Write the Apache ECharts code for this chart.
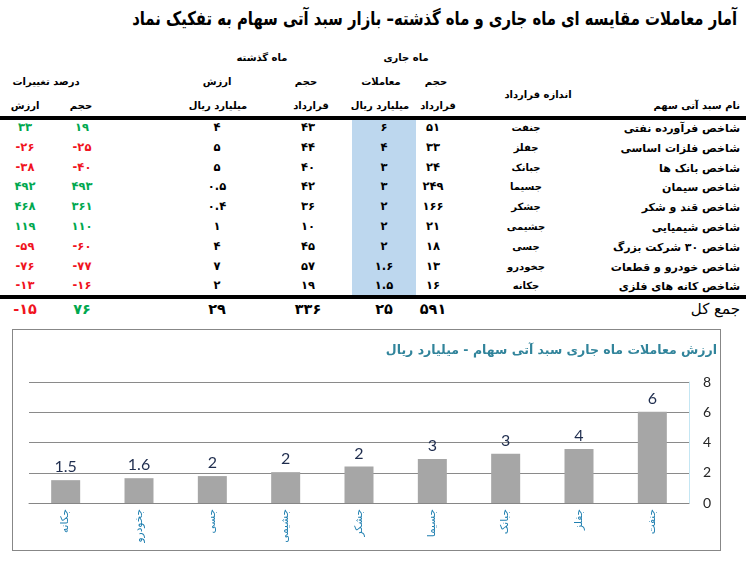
<!DOCTYPE html>
<html>
<head>
    <meta charset="utf-8">
    <title>آمار معاملات سبد آتی سهام</title>
    <script src="https://cdn.jsdelivr.net/npm/echarts@6/dist/echarts.min.js"></script>
    <style>
        body { margin: 0; background: #fff; }
        #page { position: relative; width: 746px; height: 564px; overflow: hidden; font-family: 'DejaVu Sans', sans-serif; font-weight: bold; }
        .t { position: absolute; white-space: nowrap; transform: translate(-50%, -50%); line-height: 1; }
        .r { position: absolute; white-space: nowrap; transform: translate(-100%, -50%); line-height: 1; direction: rtl; }
        .num { direction: ltr; }
        .bar { position: absolute; background: #000; }
        #chartBox { position: absolute; left: 12px; top: 329px; width: 709px; height: 222px; border: 1px solid #878787; box-sizing: border-box; }
        #main { width: 100%; height: 100%; }
    </style>
</head>
<body>
<div id="page">
    <div id="chartBox"><div id="main"></div></div>
</div>
<script type="text/javascript">

    const TITLE = 'آمار معاملات مقایسه ای ماه جاری و ماه گذشته– بازار سبد آتی سهام به تفکیک نماد';
    const CHART_TITLE = 'ارزش معاملات ماه جاری سبد آتی سهام - میلیارد ریال';

    // rows of the table, top to bottom
    const names = ['شاخص فرآورده نفتی', 'شاخص فلزات اساسی', 'شاخص بانک ها', 'شاخص سیمان', 'شاخص قند و شکر',
        'شاخص شیمیایی', 'شاخص ۳۰ شرکت بزرگ', 'شاخص خودرو و قطعات', 'شاخص کانه های فلزی'];
    const symbols = ['جنفت', 'جفلز', 'جبانک', 'جسیما', 'جشکر', 'جشیمی', 'جسی', 'جخودرو', 'جکانه'];
    const curVolume = [51, 33, 24, 249, 166, 21, 18, 13, 16];
    const curValue = [6, 4, 3, 3, 2, 2, 2, 1.6, 1.5];          // as printed
    const curValueExact = [6.03, 3.57, 3.26, 2.91, 2.41, 2.04, 1.78, 1.64, 1.51]; // bar heights
    const lastVolume = [43, 44, 40, 42, 36, 10, 45, 57, 19];
    const lastValue = [4, 5, 5, 0.5, 0.4, 1, 4, 7, 2];
    const chgVolume = [19, -25, -40, 493, 361, 110, -60, -77, -16];
    const chgValue = [33, -26, -38, 492, 468, 119, -59, -76, -13];

    const TOTAL_LABEL = 'جمع کل';
    const totals = { curVolume: 591, curValue: 25, lastVolume: 336, lastValue: 29, chgVolume: 76, chgValue: -15 };

    const yTicks = [0, 2, 4, 6, 8];

    function fa(n) {
        return String(n).replace(/[0-9]/g, d => '۰۱۲۳۴۵۶۷۸۹'[d]);
    }

    const page = document.getElementById('page');

    function put(cls, text, x, y, size, color, extra) {
        let el = document.createElement('div');
        el.className = cls;
        el.textContent = text;
        el.style.left = x + 'px';
        el.style.top = y + 'px';
        el.style.fontSize = size + 'px';
        if (color) el.style.color = color;
        if (extra) Object.assign(el.style, extra);
        page.appendChild(el);
        return el;
    }

    function rect(x, y, w, h, color) {
        let el = document.createElement('div');
        el.className = 'bar';
        Object.assign(el.style, { left: x + 'px', top: y + 'px', width: w + 'px', height: h + 'px', background: color });
        page.appendChild(el);
    }

    // title (DejaVu is wider than the original face, so squeeze it a bit)
    put('r', TITLE, 737, 18, 19, '#000', { transform: 'translate(-100%, -50%) scaleX(0.78)', transformOrigin: '100% 50%' });

    // headers
    const H = 10;
    put('t', 'ماه جاری', 406, 58, H);
    put('t', 'ماه گذشته', 262, 58, H);
    put('t', 'حجم', 436, 82, H);
    put('t', 'معاملات', 381, 82, H);
    put('t', 'حجم', 306, 82, H);
    put('t', 'ارزش', 217, 82, H);
    put('t', 'درصد تغییرات', 46, 82, H);
    put('t', 'اندازه قرارداد', 538, 95, H);
    put('r', 'نام سبد آتی سهم', 740, 106, H);
    put('t', 'قرارداد', 438, 106, H);
    put('t', 'میلیارد ریال', 380, 106, H);
    put('t', 'قرارداد', 311, 106, H);
    put('t', 'میلیارد ریال', 218, 106, H);
    put('t', 'حجم', 81, 106, H);
    put('t', 'ارزش', 25, 106, H);

    // highlighted column and rules
    rect(352, 120, 64, 176, '#bdd7ee');
    rect(0, 116, 746, 4, '#000');
    rect(0, 295, 746, 4, '#000');

    const GREEN = '#00a84f', RED = '#f0141e';
    const rowY0 = 128, rowH = 19.8, F = 11.5;
    for (let i = 0; i < names.length; i++) {
        let y = rowY0 + i * rowH;
        put('r', names[i], 740, y, 11);
        put('t', symbols[i], 526, y, 10);
        put('t num', fa(curVolume[i]), 433, y, F);
        put('t num', fa(curValue[i]), 384, y, F);
        put('t num', fa(lastVolume[i]), 308, y, F);
        put('t num', fa(lastValue[i]), 217, y, F);
        put('t num', fa(chgVolume[i]), 82, y, F, chgVolume[i] < 0 ? RED : GREEN);
        put('t num', fa(chgValue[i]), 25, y, F, chgValue[i] < 0 ? RED : GREEN);
    }

    const TY = 309, TF = 14.5;
    put('r', TOTAL_LABEL, 740, TY, 15, '#000', { fontWeight: 'normal' });
    put('t num', fa(totals.curVolume), 433, TY, TF);
    put('t num', fa(totals.curValue), 384, TY, TF);
    put('t num', fa(totals.lastVolume), 308, TY, TF);
    put('t num', fa(totals.lastValue), 217, TY, TF);
    put('t num', fa(totals.chgVolume), 82, TY, TF, totals.chgVolume < 0 ? RED : GREEN);
    put('t num', fa(totals.chgValue), 25, TY, TF, totals.chgValue < 0 ? RED : GREEN);

    // chart: reversed order, smallest on the left
    const chartSymbols = symbols.slice().reverse();
    const chartValues = curValueExact.slice().reverse();
    const chartLabels = curValue.slice().reverse();

    let myChart = echarts.init(document.getElementById('main'));
    let option = {
        animation: false,
        title: {
            text: CHART_TITLE,
            right: 3,
            top: 14,
            padding: 0,
            textStyle: { fontFamily: 'DejaVu Sans', fontSize: 12.5, fontWeight: 'bold', color: '#31849b' }
        },
        grid: { left: 16, top: 52, width: 660, height: 121 },
        xAxis: {
            type: 'category',
            data: chartSymbols,
            axisLine: { lineStyle: { color: '#868686' } },
            axisTick: { length: 3, lineStyle: { color: '#868686' } },
            axisLabel: { rotate: 90, interval: 0, fontSize: 10.5, margin: 6, color: '#1f7fb0', fontFamily: 'DejaVu Sans' }
        },
        yAxis: {
            type: 'value',
            position: 'right',
            min: yTicks[0],
            max: yTicks[yTicks.length - 1],
            interval: yTicks[1] - yTicks[0],
            axisLine: { show: true, lineStyle: { color: '#c4e6f3' } },
            axisTick: { show: false },
            splitLine: { lineStyle: { color: '#8a8a8a' } },
            axisLabel: { fontSize: 14, margin: 14, color: '#262626', fontFamily: 'Lato' }
        },
        series: [{
            type: 'bar',
            data: chartValues,
            barWidth: 29,
            itemStyle: { color: '#a6a6a6' },
            label: {
                show: true,
                position: 'top',
                distance: 5,
                fontSize: 16,
                fontFamily: 'Lato',
                color: '#1f2d4e',
                formatter: p => String(chartLabels[p.dataIndex])
            }
        }]
    };
    myChart.setOption(option);

</script>
</body>
</html>
